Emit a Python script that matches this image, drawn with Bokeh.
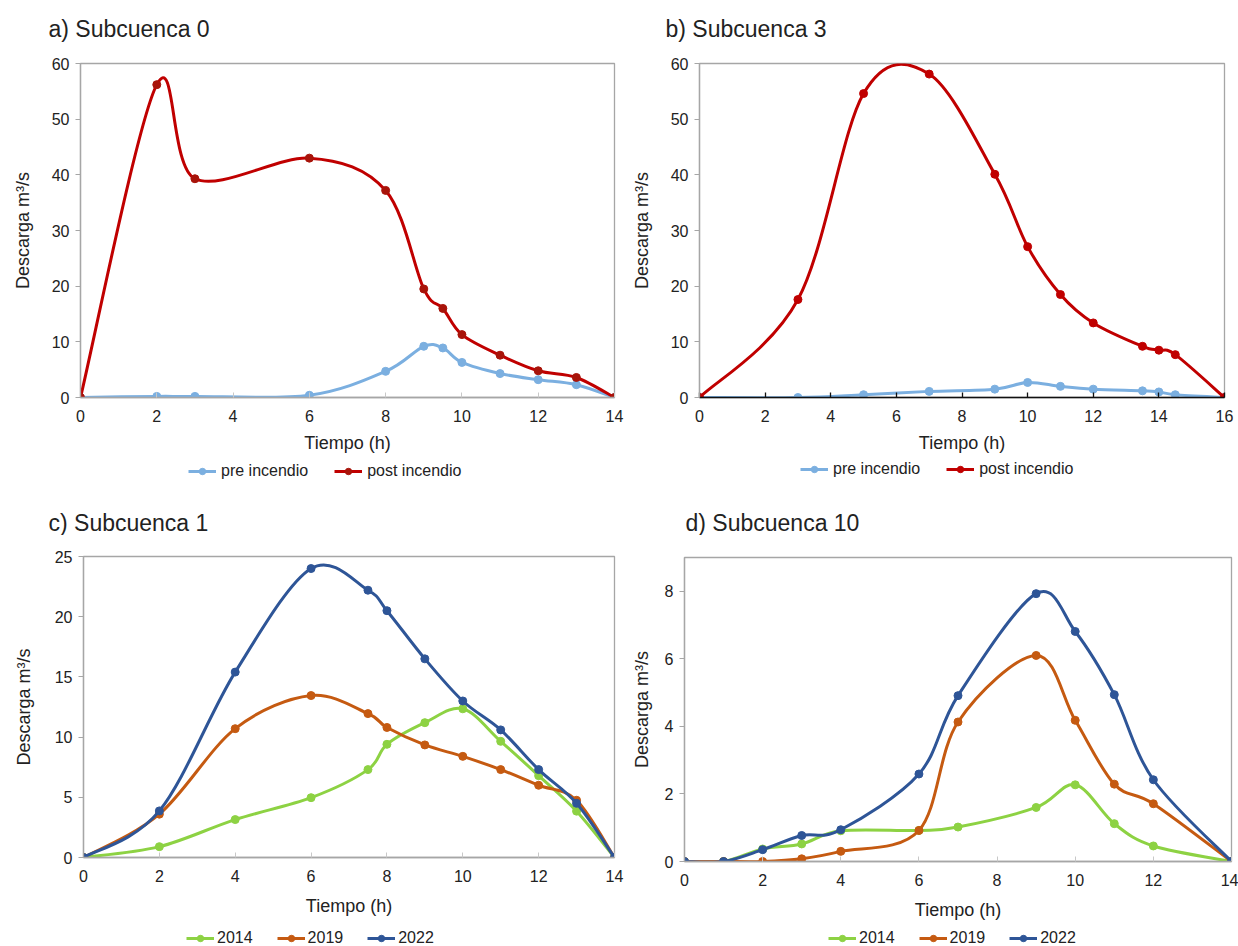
from bokeh.plotting import figure
from bokeh.models import Range1d, FixedTicker, Legend, LegendItem, Label
from bokeh.layouts import column, row
from bokeh.embed import file_html
from bokeh.resources import INLINE

FONT = "Liberation Sans"

# ---------------- data ----------------
# a) Subcuenca 0
t_a = [0, 2, 3, 6, 8, 9, 9.5, 10, 11, 12, 13, 14]
pre_a = [0, 0.2, 0.2, 0.4, 4.7, 9.2, 8.9, 6.3, 4.3, 3.2, 2.3, 0]
post_a = [0, 56.2, 39.3, 43.0, 37.2, 19.5, 16.0, 11.3, 7.6, 4.8, 3.6, 0]

# b) Subcuenca 3
t_b = [0, 3, 5, 7, 9, 10, 11, 12, 13.5, 14, 14.5, 16]
pre_b = [0, 0, 0.5, 1.1, 1.5, 2.7, 2.0, 1.5, 1.2, 1.0, 0.5, 0]
post_b = [0, 17.6, 54.6, 58.1, 40.1, 27.1, 18.5, 13.4, 9.2, 8.5, 7.7, 0]

# c) Subcuenca 1
t_c = [0, 2, 4, 6, 7.5, 8, 9, 10, 11, 12, 13, 14]
c2014 = [0, 0.9, 3.15, 4.97, 7.3, 9.4, 11.2, 12.35, 9.65, 6.8, 3.85, 0]
c2019 = [0, 3.6, 10.7, 13.45, 11.95, 10.8, 9.35, 8.4, 7.3, 6.0, 4.75, 0]
c2022 = [0, 3.87, 15.4, 24.0, 22.2, 20.5, 16.5, 13.0, 10.6, 7.3, 4.5, 0]

# d) Subcuenca 10
t_d = [0, 1, 2, 3, 4, 6, 7, 9, 10, 11, 12, 14]
d2014 = [0, 0, 0.37, 0.52, 0.91, 0.92, 1.02, 1.6, 2.27, 1.12, 0.46, 0]
d2019 = [0, 0, 0, 0.08, 0.3, 0.92, 4.13, 6.1, 4.18, 2.29, 1.71, 0]
d2022 = [0, 0, 0.35, 0.77, 0.94, 2.59, 4.91, 7.93, 6.81, 4.94, 2.42, 0]

titles = ["a) Subcuenca 0", "b) Subcuenca 3", "c) Subcuenca 1", "d) Subcuenca 10"]
labels_fire = ["pre incendio", "post incendio"]
labels_year = ["2014", "2019", "2022"]

C_PRE = "#7BAFE0"
C_POST = "#C00000"
C_14 = "#8DD243"
C_19 = "#C55A11"
C_22 = "#2E5597"


def bezier_parts(xs, ys):
    """Smoothed-line control points (Catmull-Rom style) from the data points."""
    n = len(xs)
    out = dict(x0=[], y0=[], x1=[], y1=[], cx0=[], cy0=[], cx1=[], cy1=[])
    for i in range(n - 1):
        xp, yp = (xs[i - 1], ys[i - 1]) if i > 0 else (xs[i], ys[i])
        xn, yn = (xs[i + 2], ys[i + 2]) if i + 2 < n else (xs[i + 1], ys[i + 1])
        out["x0"].append(xs[i]); out["y0"].append(ys[i])
        out["x1"].append(xs[i + 1]); out["y1"].append(ys[i + 1])
        out["cx0"].append(xs[i] + (xs[i + 1] - xp) / 6.0)
        out["cy0"].append(ys[i] + (ys[i + 1] - yp) / 6.0)
        out["cx1"].append(xs[i + 1] - (xn - xs[i]) / 6.0)
        out["cy1"].append(ys[i + 1] - (yn - ys[i]) / 6.0)
    return out


def blank_fig(width, height):
    f = figure(width=width, height=height, output_backend="svg",
               toolbar_location=None, x_axis_location=None, y_axis_location=None,
               x_range=Range1d(0, width), y_range=Range1d(0, height),
               min_border=0)
    f.grid.visible = False
    f.outline_line_color = None
    try:
        f.frame_align = False
    except Exception:
        pass
    return f


def title_fig(text, width, height, x, y):
    f = blank_fig(width, height)
    f.add_layout(Label(x=x, y=y, text=text, text_font=FONT,
                       text_font_size="23px", text_color="#222222",
                       text_baseline="middle", text_align="left"))
    return f


def legend_fig(width, height, series, loc, spacing, standoff):
    f = blank_fig(width, height)
    items = []
    for xs, ys, color, mcolor, label in series:
        # legend keys only: the renderers carry the series but are hidden
        ln = f.line(xs, ys, line_color=color, line_width=3)
        sc = f.scatter(xs, ys, size=8, fill_color=mcolor, line_color=mcolor)
        ln.visible = False
        sc.visible = False
        items.append(LegendItem(label=label, renderers=[ln, sc]))
    leg = Legend(items=items, orientation="horizontal", location=loc)
    leg.label_text_font = FONT
    leg.label_text_font_size = "16px"
    leg.label_text_color = "#222222"
    leg.border_line_alpha = 0
    leg.background_fill_alpha = 0
    leg.inactive_fill_alpha = 0
    leg.glyph_width = 28
    leg.glyph_height = 16
    leg.label_standoff = standoff
    leg.spacing = spacing
    leg.padding = 0
    leg.margin = 0
    f.add_layout(leg)
    return f


def plot_fig(width, height, borders, xmax, ymax, xticks, yticks, series,
             ylabel_standoff, xlabel_standoff, black_xaxis=False):
    left, right, top, bottom = borders
    p = figure(width=width, height=height, output_backend="svg",
               toolbar_location=None,
               x_range=Range1d(0, xmax), y_range=Range1d(0, ymax),
               min_border_left=left, min_border_right=right,
               min_border_top=top, min_border_bottom=bottom)
    p.grid.visible = False
    p.outline_line_color = "#A6A6A6"
    p.outline_line_width = 1.3

    p.xaxis.ticker = FixedTicker(ticks=xticks)
    p.yaxis.ticker = FixedTicker(ticks=yticks)
    for ax in (p.xaxis[0], p.yaxis[0]):
        ax.major_label_text_font = FONT
        ax.major_label_text_font_size = "16px"
        ax.major_label_text_color = "#222222"
        ax.axis_label_text_font = FONT
        ax.axis_label_text_font_size = "18px"
        ax.axis_label_text_font_style = "normal"
        ax.axis_label_text_color = "#222222"
        ax.minor_tick_line_color = None
    p.xaxis.axis_label = "Tiempo (h)"
    p.yaxis.axis_label = "Descarga m³/s"
    p.yaxis.axis_line_color = "#A6A6A6"
    p.yaxis.axis_line_width = 1.3
    p.yaxis.major_tick_line_color = "#A6A6A6"
    p.yaxis.major_tick_out = 5
    p.yaxis.major_tick_in = 0
    p.yaxis.major_label_standoff = 6
    p.yaxis.axis_label_standoff = ylabel_standoff
    if black_xaxis:
        p.xaxis.axis_line_color = "#111111"
        p.xaxis.axis_line_width = 1.5
        p.xaxis.major_tick_line_color = "#111111"
        p.xaxis.major_tick_line_width = 1.3
    else:
        p.xaxis.axis_line_color = "#A6A6A6"
        p.xaxis.axis_line_width = 1.3
        p.xaxis.major_tick_line_color = "#C8C8C8"
    p.xaxis.major_tick_in = 5
    p.xaxis.major_tick_out = 0
    p.xaxis.major_label_standoff = 12
    p.xaxis.axis_label_standoff = xlabel_standoff

    for xs, ys, color, mcolor in series:
        src = bezier_parts(xs, ys)
        p.bezier(x0="x0", y0="y0", x1="x1", y1="y1", cx0="cx0", cy0="cy0",
                 cx1="cx1", cy1="cy1", source=src, line_color=color,
                 line_width=3)
        p.scatter(xs, ys, size=8, fill_color=mcolor, line_color=mcolor)
    return p


WL, WR = 628, 610

# ---- row 1 ----
ta = title_fig(titles[0], WL, 45, 48, 17)
pa = plot_fig(WL, 415, (80, 14, 18, 63), 14, 60,
              list(range(0, 15, 2)), list(range(0, 61, 10)),
              [(t_a, pre_a, C_PRE, C_PRE), (t_a, post_a, C_POST, "#A8140A")],
              16, 8)
la = legend_fig(WL, 30, [(t_a, pre_a, C_PRE, C_PRE, labels_fire[0]),
                         (t_a, post_a, C_POST, "#A8140A", labels_fire[1])],
                (188, 10), 26, 5)

tb = title_fig(titles[1], WR, 45, 37, 17)
pb = plot_fig(WR, 415, (64, 14, 18, 63), 16, 60,
              list(range(0, 17, 2)), list(range(0, 61, 10)),
              [(t_b, pre_b, C_PRE, C_PRE), (t_b, post_b, C_POST, C_POST)],
              16, 8, black_xaxis=True)
lb = legend_fig(WR, 30, [(t_b, pre_b, C_PRE, C_PRE, labels_fire[0]),
                         (t_b, post_b, C_POST, C_POST, labels_fire[1])],
                (172, 12), 26, 5)

# ---- row 2 ----
tc = title_fig(titles[2], WL, 45, 48, 13)
pc = plot_fig(WL, 389, (83, 14, 21, 67), 14, 25,
              list(range(0, 15, 2)), list(range(0, 26, 5)),
              [(t_c, c2014, C_14, C_14), (t_c, c2019, C_19, C_19),
               (t_c, c2022, C_22, C_22)],
              18, 11)
lc = legend_fig(WL, 22, [(t_c, c2014, C_14, C_14, labels_year[0]),
                         (t_c, c2019, C_19, C_19, labels_year[1]),
                         (t_c, c2022, C_22, C_22, labels_year[2])],
                (186, -1), 24, 3)

td = title_fig(titles[3], WR, 45, 57, 13)
pd_ = plot_fig(WR, 389, (54, 7, 22, 63), 14, 9,
               list(range(0, 15, 2)), list(range(0, 9, 2)),
               [(t_d, d2014, C_14, C_14), (t_d, d2019, C_19, C_19),
                (t_d, d2022, C_22, C_22)],
               10, 11)
ld = legend_fig(WR, 22, [(t_d, d2014, C_14, C_14, labels_year[0]),
                         (t_d, d2019, C_19, C_19, labels_year[1]),
                         (t_d, d2022, C_22, C_22, labels_year[2])],
                (200, -1), 24, 3)

layout = column(row(column(ta, pa, la), column(tb, pb, lb)),
                row(column(tc, pc, lc), column(td, pd_, ld)))
open("out.html", "w").write(file_html(layout, INLINE))
